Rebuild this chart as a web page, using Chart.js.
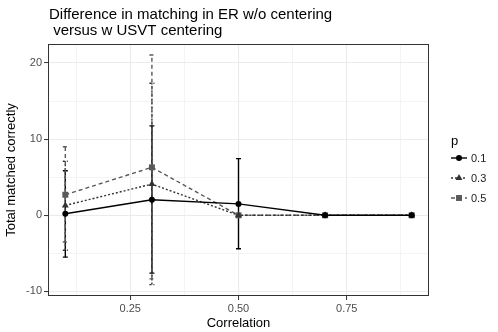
<!DOCTYPE html>
<html>
<head>
<meta charset="utf-8">
<script src="https://cdn.jsdelivr.net/npm/chart.js@4/dist/chart.umd.min.js"></script>
<style>
  html, body { margin: 0; padding: 0; background: #fff; }
  #wrap { width: 498px; height: 332px; }
</style>
</head>
<body>
<div id="wrap"><canvas id="chart" width="498" height="332"></canvas></div>
<script>
// Datos
const correlations = [0.1, 0.3, 0.5, 0.7, 0.9];
const pLabels = ['0.1', '0.3', '0.5'];

const mean01 = [0.2, 2.05, 1.5, 0, 0];
const lower01 = [-5.5, -7.6, -4.4, 0, 0];
const upper01 = [5.85, 11.75, 7.45, 0, 0];

const mean03 = [1.3, 4.1, 0, 0, 0];
const lower03 = [-4.6, -9.1, 0, 0, 0];
const upper03 = [7.1, 17.35, 0, 0, 0];

const mean05 = [2.7, 6.3, 0, 0, 0];
const lower05 = [-3.5, -8.35, 0, 0, 0];
const upper05 = [9.0, 21.05, 0, 0, 0];

const xTicks = [0.125, 0.25, 0.375, 0.5, 0.625, 0.75, 0.875];
const xMajor = [0.25, 0.5, 0.75];
const yTicks = [-10, -5, 0, 5, 10, 15, 20];
const yMajor = [-10, 0, 10, 20];

const FONT = "'Liberation Sans', Arial, Helvetica, sans-serif";

// Estilos por serie
const styles = [
    { color: '#000000', dash: [], point: 'circle', radius: 3 },
    { color: '#333333', dash: [2, 2], point: 'triangle', radius: 4 },
    { color: '#595959', dash: [4, 3], point: 'rect', radius: 4.2 }
];
const means = [mean01, mean03, mean05];
const lowers = [lower01, lower03, lower05];
const uppers = [upper01, upper03, upper05];

const datasets = pLabels.map(function(p, i) {
    return {
        label: p,
        data: correlations.map(function(x, j) { return { x: x, y: means[i][j] }; }),
        borderColor: styles[i].color,
        backgroundColor: styles[i].color,
        borderWidth: 1.4,
        borderDash: styles[i].dash,
        pointStyle: styles[i].point,
        pointRadius: styles[i].radius,
        pointBorderWidth: 0,
        tension: 0,
        errLow: lowers[i],
        errHigh: uppers[i]
    };
});

// Barras de error
const errorBars = {
    id: 'errorBars',
    beforeDatasetsDraw: function(chart) {
        const ctx = chart.ctx;
        const xs = chart.scales.x, ys = chart.scales.y;
        chart.data.datasets.forEach(function(ds, i) {
            ctx.save();
            ctx.strokeStyle = ds.borderColor;
            ctx.lineWidth = 1.4;
            ctx.setLineDash(ds.borderDash);
            ds.data.forEach(function(pt, j) {
                const px = xs.getPixelForValue(pt.x);
                const lo = ys.getPixelForValue(ds.errLow[j]);
                const hi = ys.getPixelForValue(ds.errHigh[j]);
                ctx.beginPath();
                ctx.moveTo(px, lo); ctx.lineTo(px, hi);
                ctx.moveTo(px - 2.5, lo); ctx.lineTo(px + 2.5, lo);
                ctx.moveTo(px - 2.5, hi); ctx.lineTo(px + 2.5, hi);
                ctx.stroke();
            });
            ctx.restore();
        });
    }
};

// Título, borde del panel y leyenda
const decorations = {
    id: 'decorations',
    afterDraw: function(chart) {
        const ctx = chart.ctx;
        const a = chart.chartArea;
        ctx.save();
        ctx.strokeStyle = '#333333';
        ctx.lineWidth = 1;
        ctx.strokeRect(a.left + 0.5, a.top + 0.5, a.right - a.left - 1, a.bottom - a.top - 1);

        ctx.fillStyle = '#000';
        ctx.font = '15px ' + FONT;
        ctx.textBaseline = 'alphabetic';
        ctx.textAlign = 'left';
        ctx.fillText('Difference in matching in ER w/o centering', 49, 19);
        ctx.fillText(' versus w USVT centering', 49, 35);

        // leyenda
        const lx = 451;
        ctx.font = '13px ' + FONT;
        ctx.fillText('p', lx, 145);
        ctx.font = '11px ' + FONT;
        chart.data.datasets.forEach(function(ds, i) {
            const y = 158 + i * 20;
            ctx.save();
            ctx.strokeStyle = ds.borderColor;
            ctx.fillStyle = ds.borderColor;
            ctx.lineWidth = 1.4;
            ctx.setLineDash(ds.borderDash);
            ctx.beginPath();
            ctx.moveTo(lx, y); ctx.lineTo(lx + 16, y);
            ctx.stroke();
            ctx.setLineDash([]);
            Chart.helpers.drawPoint(ctx, {
                pointStyle: ds.pointStyle, radius: ds.pointRadius, rotation: 0, borderWidth: 0
            }, lx + 8, y);
            ctx.restore();
            ctx.fillStyle = '#1a1a1a';
            ctx.textBaseline = 'middle';
            ctx.fillText(ds.label, lx + 20, y + 0.5);
        });
        ctx.restore();
    }
};

new Chart(document.getElementById('chart').getContext('2d'), {
    type: 'line',
    data: { datasets: datasets },
    plugins: [errorBars, decorations],
    options: {
        responsive: false,
        animation: false,
        events: [],
        layout: { padding: { top: 44, right: 69, left: 0, bottom: 0 } },
        plugins: { legend: { display: false }, title: { display: false }, tooltip: { enabled: false } },
        scales: {
            x: {
                type: 'linear',
                min: 0.06,
                max: 0.94,
                afterBuildTicks: function(s) { s.ticks = xTicks.map(function(v) { return { value: v }; }); },
                afterFit: function(s) { s.height = 36; },
                border: { display: false },
                grid: {
                    color: '#ebebeb',
                    lineWidth: function(c) { return xMajor.includes(c.tick.value) ? 1.1 : 0.55; },
                    tickColor: function(c) { return xMajor.includes(c.tick.value) ? '#333333' : 'rgba(0,0,0,0)'; },
                    tickLength: 4,
                    tickWidth: 1
                },
                ticks: {
                    autoSkip: false,
                    maxRotation: 0,
                    padding: 2,
                    color: '#4d4d4d',
                    font: { family: FONT, size: 11 },
                    callback: function(v) { return xMajor.includes(v) ? v.toFixed(2) : ''; }
                },
                title: {
                    display: true,
                    text: 'Correlation',
                    color: '#000',
                    font: { family: FONT, size: 13 },
                    padding: { top: 0, bottom: 1 }
                }
            },
            y: {
                type: 'linear',
                min: -10.6,
                max: 22.5,
                afterBuildTicks: function(s) { s.ticks = yTicks.map(function(v) { return { value: v }; }); },
                afterFit: function(s) { s.width = 48; },
                border: { display: false },
                grid: {
                    color: '#ebebeb',
                    lineWidth: function(c) { return yMajor.includes(c.tick.value) ? 1.1 : 0.55; },
                    tickColor: function(c) { return yMajor.includes(c.tick.value) ? '#333333' : 'rgba(0,0,0,0)'; },
                    tickLength: 4,
                    tickWidth: 1
                },
                ticks: {
                    autoSkip: false,
                    padding: 2,
                    color: '#4d4d4d',
                    font: { family: FONT, size: 11 },
                    callback: function(v) { return yMajor.includes(v) ? String(v) : ''; }
                },
                title: {
                    display: true,
                    text: 'Total matched correctly',
                    color: '#000',
                    font: { family: FONT, size: 13 },
                    padding: { top: 4, bottom: 0 }
                }
            }
        }
    }
});
</script>
</body>
</html>
